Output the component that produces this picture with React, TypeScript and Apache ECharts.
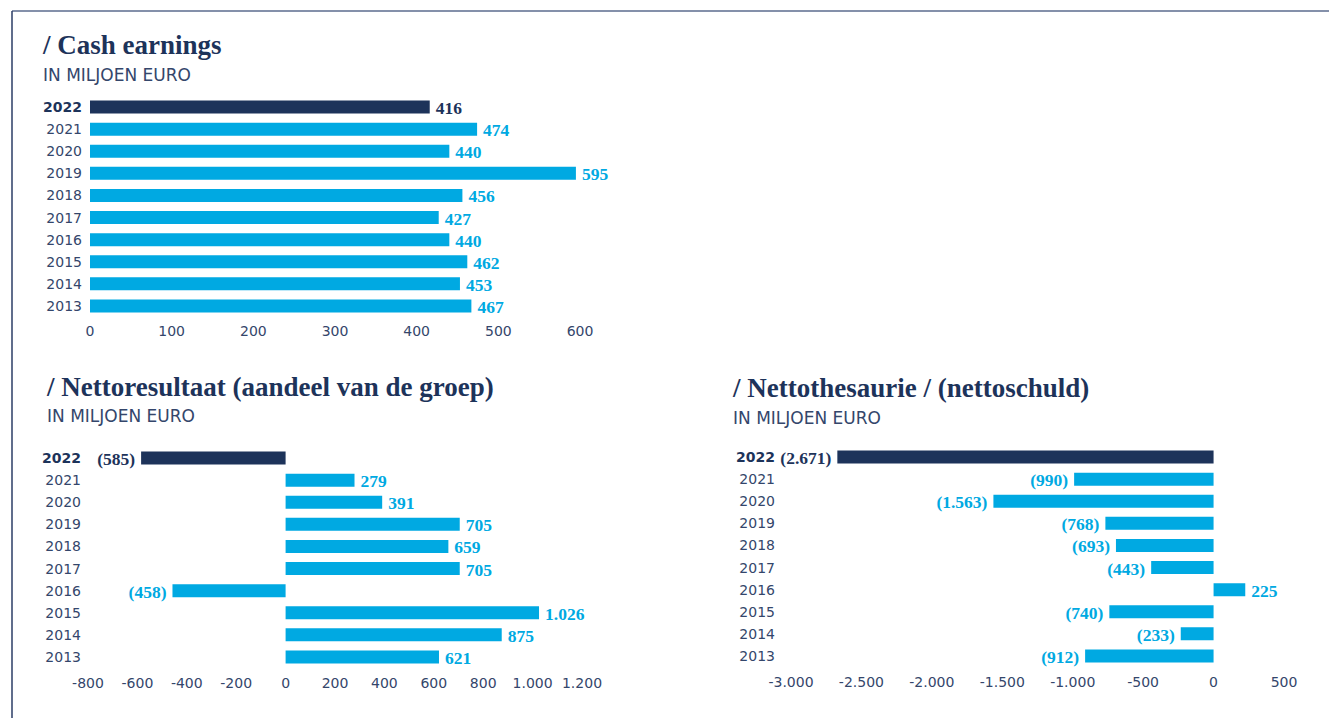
import React, { useEffect, useRef } from "react";
import * as echarts from "echarts";

const years = ["2022", "2021", "2020", "2019", "2018", "2017", "2016", "2015", "2014", "2013"];
const cashEarnings = [416, 474, 440, 595, 456, 427, 440, 462, 453, 467];
const nettoresultaat = [-585, 279, 391, 705, 659, 705, -458, 1026, 875, 621];
const nettothesaurie = [-2671, -990, -1563, -768, -693, -443, 225, -740, -233, -912];

const titles = [
  "/ Cash earnings",
  "/ Nettoresultaat (aandeel van de groep)",
  "/ Nettothesaurie / (nettoschuld)",
];
const subtitle = "IN MILJOEN EURO";

const NAVY = "#1d335a";
const CYAN = "#00a9e2";
const TEXT = "#34466b";

function thousands(n: number): string {
  return String(Math.abs(n)).replace(/\B(?=(\d{3})+(?!\d))/g, ".");
}
function fmtValue(v: number): string {
  return v < 0 ? "(" + thousands(v) + ")" : thousands(v);
}
function fmtAxis(v: number): string {
  return (v < 0 ? "-" : "") + thousands(v);
}

function makeSeries(values: number[], idx: number) {
  return {
    type: "bar",
    xAxisIndex: idx,
    yAxisIndex: idx,
    barWidth: 13,
    data: values.map((v, i) => ({
      value: v,
      itemStyle: { color: i === 0 ? NAVY : CYAN },
      label: {
        show: true,
        position: v < 0 ? "left" : "right",
        distance: 6,
        offset: [0, 1],
        formatter: () => fmtValue(v),
        color: i === 0 ? NAVY : CYAN,
        fontFamily: "Liberation Serif",
        fontWeight: "bold",
        fontSize: 17.5,
      },
    })),
  };
}

function yAxis(idx: number, margin: number) {
  return {
    type: "category",
    gridIndex: idx,
    data: years,
    inverse: true,
    axisLine: { show: false },
    axisTick: { show: false },
    axisLabel: {
      margin,
      formatter: (v: string) => (v === "2022" ? "{b|" + v + "}" : "{n|" + v + "}"),
      rich: {
        b: { fontFamily: "DejaVu Sans", fontWeight: "bold", fontSize: 14, color: NAVY },
        n: { fontFamily: "DejaVu Sans", fontSize: 14, color: TEXT },
      },
    },
  };
}

function xAxis(idx: number, min: number, max: number, interval: number, margin: number) {
  return {
    type: "value",
    gridIndex: idx,
    min,
    max,
    interval,
    splitLine: { show: false },
    axisLine: { show: false },
    axisTick: { show: false },
    axisLabel: {
      margin,
      formatter: (v: number) => fmtAxis(v),
      fontFamily: "DejaVu Sans",
      fontSize: 14,
      color: TEXT,
    },
  };
}

function titleText(text: string, x: number, y: number) {
  return {
    type: "text",
    x,
    y,
    style: {
      text,
      fill: NAVY,
      font: 'bold 27px "Liberation Serif"',
      verticalAlign: "middle",
    },
  };
}
function subText(x: number, y: number) {
  return {
    type: "text",
    x,
    y,
    style: {
      text: subtitle,
      fill: TEXT,
      font: '17px "DejaVu Sans"',
      verticalAlign: "middle",
    },
  };
}

export default function App() {
  const ref = useRef<HTMLDivElement>(null);
  useEffect(() => {
    if (!ref.current) return;
    const chart = echarts.init(ref.current, null, { renderer: "svg" });
    chart.setOption({
      animation: false,
      backgroundColor: "#ffffff",
      grid: [
        { left: 90, top: 96, width: 490, height: 221 },
        { left: 88, top: 447, width: 494, height: 221 },
        { left: 791, top: 446, width: 493, height: 221 },
      ],
      xAxis: [
        xAxis(0, 0, 600, 100, 7),
        xAxis(1, -800, 1200, 200, 8),
        xAxis(2, -3000, 500, 500, 8),
      ],
      yAxis: [yAxis(0, 8), yAxis(1, 7), yAxis(2, 16)],
      series: [
        makeSeries(cashEarnings, 0),
        makeSeries(nettoresultaat, 1),
        makeSeries(nettothesaurie, 2),
      ],
      graphic: [
        {
          type: "line",
          shape: { x1: 12, y1: 11, x2: 1329, y2: 11 },
          style: { stroke: "#5b6b8e", lineWidth: 1.5 },
        },
        {
          type: "line",
          shape: { x1: 12, y1: 11, x2: 12, y2: 718 },
          style: { stroke: "#2b3d66", lineWidth: 1.5 },
        },
        titleText(titles[0], 43, 45),
        subText(43, 75),
        titleText(titles[1], 47, 387),
        subText(47, 416),
        titleText(titles[2], 733, 388),
        subText(733, 418),
      ],
    });
    return () => chart.dispose();
  }, []);
  return (
    <div
      ref={ref}
      style={{ position: "fixed", left: 0, top: 0, width: 1329, height: 718, background: "#fff" }}
    />
  );
}
